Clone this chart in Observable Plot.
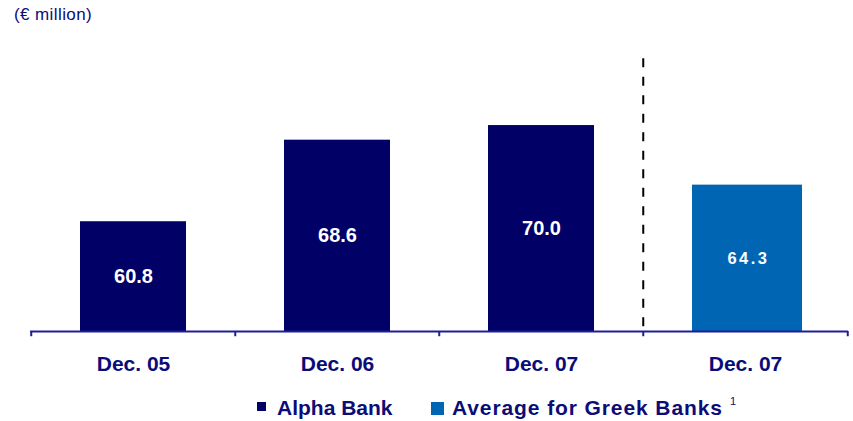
<!DOCTYPE html>
<html>
<head>
<meta charset="utf-8">
<script src="https://cdn.jsdelivr.net/npm/d3@7"></script>
<script src="https://cdn.jsdelivr.net/npm/@observablehq/plot@0.6"></script>
<style>
  html, body { margin: 0; padding: 0; background: #fff; }
  #wrap { position: relative; width: 853px; height: 421px; font-family: "Liberation Sans", Arial, sans-serif; color: #0c0c78; }
  #chart { position: absolute; left: 0; top: 0; }
  .abs { position: absolute; white-space: nowrap; }
  #title { left: 14px; top: 6px; font-size: 17px; line-height: 17px; letter-spacing: 0.4px; }
  .lg { font-size: 21px; line-height: 21px; font-weight: bold; top: 397px; }
  .sw { position: absolute; }
</style>
</head>
<body>
<div id="wrap">
  <div id="chart"></div>
  <div id="title" class="abs">(€ million)</div>
  <div class="sw" style="left:257px;top:402px;width:9px;height:9px;background:#000066"></div>
  <div class="abs lg" style="left:277px">Alpha Bank</div>
  <div class="sw" style="left:431px;top:402px;width:13px;height:13px;background:#0066b3"></div>
  <div class="abs lg" style="left:452px;letter-spacing:0.9px">Average for Greek Banks</div>
  <div class="abs" style="left:730px;top:396px;font-size:11px;line-height:11px">1</div>
</div>
<script>
// ---- data ----
const categories = ["Dec. 05", "Dec. 06", "Dec. 07", "Dec. 07 (avg)"];
const tickLabels = ["Dec. 05", "Dec. 06", "Dec. 07", "Dec. 07"];
const values = [60.8, 68.6, 70.0, 64.3];
const series = ["Alpha Bank", "Alpha Bank", "Alpha Bank", "Average for Greek Banks"];
const seriesColors = ["#000066", "#0066b3"];
const yMin = 50.3, yMax = 76.7, dashTop = 76.4;

const data = categories.map((c, i) => ({cat: c, value: values[i], series: series[i]}));

const W = 853, H = 421, mL = 30, mR = 5, mT = 55, mB = 90;
const step = (W - mL - mR) / categories.length;
const axisColor = "#1e1e96";
const textColor = "#0c0c78";

const plot = Plot.plot({
  width: W, height: H,
  marginLeft: mL, marginRight: mR, marginTop: mT, marginBottom: mB,
  style: {fontFamily: "'Liberation Sans', Arial, sans-serif", background: "transparent"},
  x: {domain: categories, paddingInner: 0.48, paddingOuter: 0.24, axis: null, label: null},
  y: {domain: [yMin, yMax], axis: null},
  color: {domain: ["Alpha Bank", "Average for Greek Banks"], range: seriesColors},
  marks: [
    Plot.barY(data.filter(d => d.series === "Alpha Bank"), {x: "cat", y1: yMin, y2: "value", fill: "series"}),
    Plot.barY(data.filter(d => d.series !== "Alpha Bank"), {x: "cat", y1: yMin, y2: "value", fill: "series", insetRight: -4}),
    Plot.text(data.filter(d => d.series === "Alpha Bank"), {
      x: "cat", y: d => (d.value + yMin) / 2, text: d => d.value.toFixed(1),
      fill: "white", fontWeight: "bold", fontSize: 20
    }),
    Plot.text(data.filter(d => d.series !== "Alpha Bank"), {
      x: "cat", y: d => (d.value + yMin) / 2, text: d => d.value.toFixed(1),
      fill: "white", fontWeight: "bold", fontSize: 16.5, dx: 3
    }),
    Plot.ruleY([yMin], {stroke: axisColor, strokeWidth: 2}),
    Plot.ruleX(categories, {x: d => d, y1: yMin, y2: yMin - 0.5, dx: -step / 2, stroke: axisColor, strokeWidth: 2}),
    Plot.ruleX(categories.slice(-1), {x: d => d, y1: yMin, y2: yMin - 0.5, dx: step / 2, stroke: axisColor, strokeWidth: 2}),
    Plot.ruleX(categories.slice(-1), {x: d => d, y1: dashTop, y2: yMin, dx: -step / 2, stroke: "#000", strokeWidth: 2, strokeDasharray: "9,9.5"}),
    Plot.axisX({
      label: null,
      tickSize: 0, tickPadding: 25, fontSize: 21, fontWeight: "bold", fill: textColor,
      tickFormat: d => tickLabels[categories.indexOf(d)]
    })
  ]
});
document.getElementById("chart").appendChild(plot);
// letter spacing for the average-bank value label
const textGroups = plot.querySelectorAll('g[aria-label="text"]');
if (textGroups.length > 1) textGroups[1].setAttribute("letter-spacing", "2.5");
</script>
</body>
</html>
